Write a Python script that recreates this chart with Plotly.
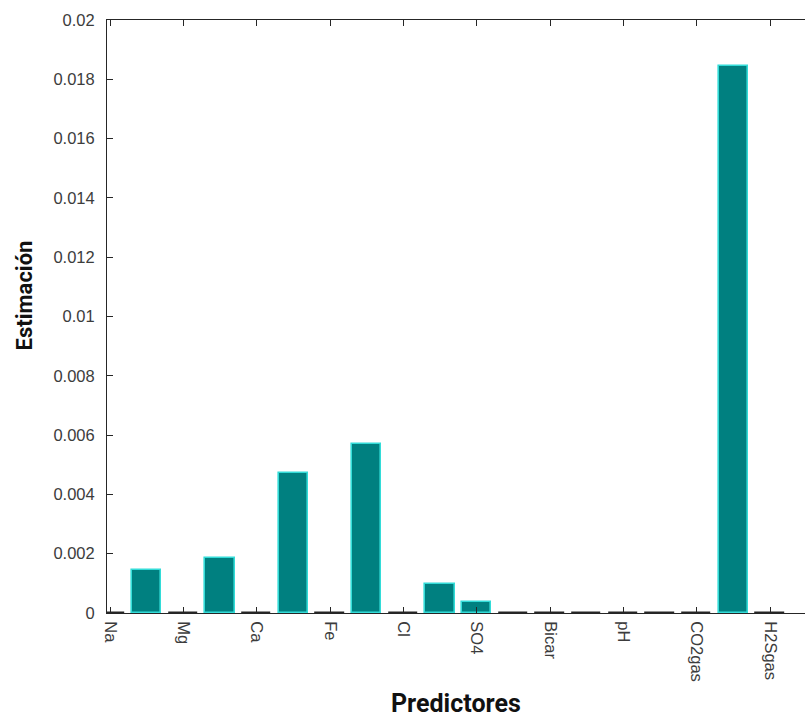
import plotly.graph_objects as go

# Predictor positions and coefficient estimates
positions = list(range(1, 20))
estimates = [0.0, 0.00146, 0.0, 0.00187, 0.0, 0.00472, 0.0, 0.00571, 0.0, 0.00099,
             0.00037, 0.0, 0.0, 0.0, 0.0, 0.0, 0.0, 0.01845, 0.0]

# Tick labels shown on every other position
tick_positions = [1, 3, 5, 7, 9, 11, 13, 15, 17, 19]
tick_labels = ["Na", "Mg", "Ca", "Fe", "Cl", "SO4", "Bicar", "pH", "CO2gas", "H2Sgas"]

y_ticks = [0, 0.002, 0.004, 0.006, 0.008, 0.01, 0.012, 0.014, 0.016, 0.018, 0.02]
y_tick_text = ["0", "0.002", "0.004", "0.006", "0.008", "0.01", "0.012", "0.014",
               "0.016", "0.018", "0.02"]

axis_color = "#262626"
edge_color = "#33dcd8"

# zero-height bars collapse onto the axis, so their outline takes the axis colour
edge_colors = [edge_color if v > 0 else axis_color for v in estimates]

fig = go.Figure()
fig.add_trace(go.Bar(
    x=positions,
    y=estimates,
    width=0.8,
    marker=dict(color="#008080", line=dict(color=edge_colors, width=1.6)),
    showlegend=False,
))

tick_font = dict(family="Liberation Sans, Arial, sans-serif", size=16.5, color="#3c3c3c")

fig.update_layout(
    width=805,
    height=722,
    margin=dict(l=107, r=0, t=20, b=109),
    paper_bgcolor="white",
    plot_bgcolor="white",
    bargap=0,
    xaxis=dict(
        range=[0.918, 19.95],
        tickmode="array",
        tickvals=tick_positions,
        ticktext=tick_labels,
        tickangle=90,
        ticks="inside",
        ticklen=6,
        tickcolor=axis_color,
        showline=True,
        linecolor=axis_color,
        linewidth=1,
        mirror="ticks",
        showgrid=False,
        zeroline=False,
        tickfont=tick_font,
        ticklabelstandoff=4,
    ),
    yaxis=dict(
        range=[0, 0.02],
        tickmode="array",
        tickvals=y_ticks,
        ticktext=y_tick_text,
        ticks="inside",
        ticklen=6,
        tickcolor=axis_color,
        showline=True,
        linecolor=axis_color,
        linewidth=1,
        mirror=False,
        showgrid=False,
        zeroline=False,
        tickfont=tick_font,
        ticklabelstandoff=8,
    ),
    annotations=[
        dict(text="<b>Predictores</b>", xref="paper", yref="paper", x=0.5, y=-0.152,
             xanchor="center", yanchor="middle", showarrow=False,
             font=dict(family="Roboto, Arial, sans-serif", size=25, color="#111111")),
        dict(text="<b>Estimación</b>", xref="paper", yref="paper", x=-0.118, y=0.535,
             xanchor="center", yanchor="middle", showarrow=False, textangle=-90,
             font=dict(family="Roboto, Arial, sans-serif", size=22, color="#111111")),
    ],
)

fig.write_html("out.html")
